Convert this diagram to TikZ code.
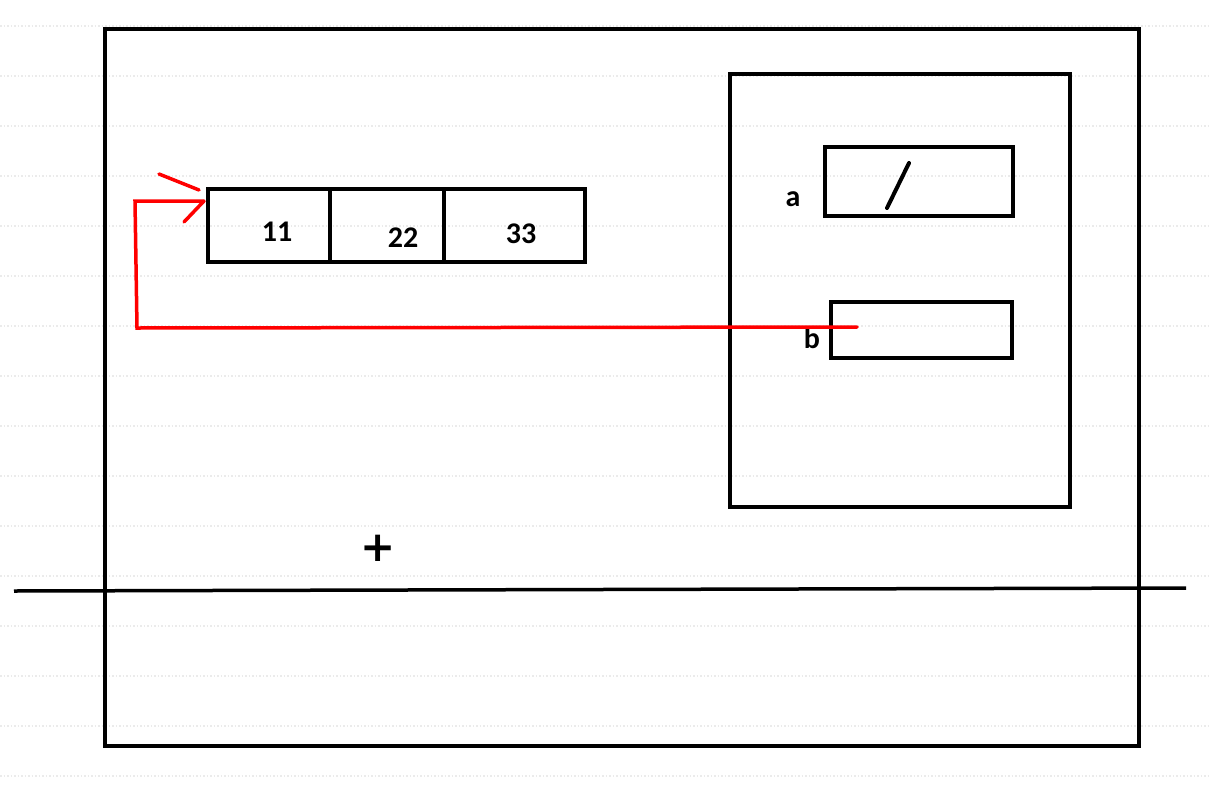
\documentclass[tikz,border=0pt]{standalone}
\usepackage{fontspec}
\setmainfont{Carlito}
\newfontfamily\plusfont{DejaVu Sans}
\usetikzlibrary{calc}
\begin{document}
\begin{tikzpicture}[x=1pt,y=-1pt,
  box/.style={draw=black,line width=3.5pt,inner sep=0pt,outer sep=0pt},
  lbl/.style={font=\bfseries\fontsize{30}{32}\selectfont,inner sep=0pt},
  grid line/.style={draw=black!8,line width=1.5pt,dotted},
  ptr/.style={draw=red,line width=3.5pt,line cap=round,line join=miter}]
\useasboundingbox (0,0) rectangle (1210,798);
\fill[white] (0,0) rectangle (1210,798);
\foreach \k in {0,...,15}{
  \draw[grid line] (0,26+50*\k) -- (1210,26+50*\k);
}
% frames
\node[box,minimum width=1034pt,minimum height=717pt] (outer) at (622,387.5) {};
\node[box,minimum width=340pt,minimum height=433pt] (frame) at (900,290.5) {};
% variables
\node[box,minimum width=188pt,minimum height=69pt] (boxa) at (919,181.5) {};
\node[box,minimum width=181pt,minimum height=56pt] (boxb) at (921.5,330) {};
\node[lbl] (la) at (793,199) {a};
\node[lbl] (lb) at (812,338) {b};
\draw[line width=4pt,line cap=round] (887,208) -- (909,163);
% array
\node[box,minimum width=122pt,minimum height=73pt] (c1) at (269,225.5) {};
\node[box,minimum width=114pt,minimum height=73pt] (c2) at (387,225.5) {};
\node[box,minimum width=141pt,minimum height=73pt] (c3) at (514.5,225.5) {};
\node[lbl] (v1) at (277,232) {11};
\node[lbl] (v2) at (403,238) {22};
\node[lbl] (v3) at (521,234) {33};
% plus
\node[inner sep=0pt,font=\plusfont\bfseries\fontsize{42}{44}\selectfont] (plus) at (378,548) {+};
% baseline
\draw[line width=3.5pt] (14,591) -- (1186,588);
% pointer
\coordinate (bp) at (857,327);
\coordinate (tip) at (204,201);
\draw[ptr] (bp) -- (137,328) -- (135,201) -- (tip);
\draw[ptr] (tip) -- ++(-20,21);
\draw[ptr] ($(tip)+(-5,-11)$) -- ++(-40,-16);
\end{tikzpicture}
\end{document}
